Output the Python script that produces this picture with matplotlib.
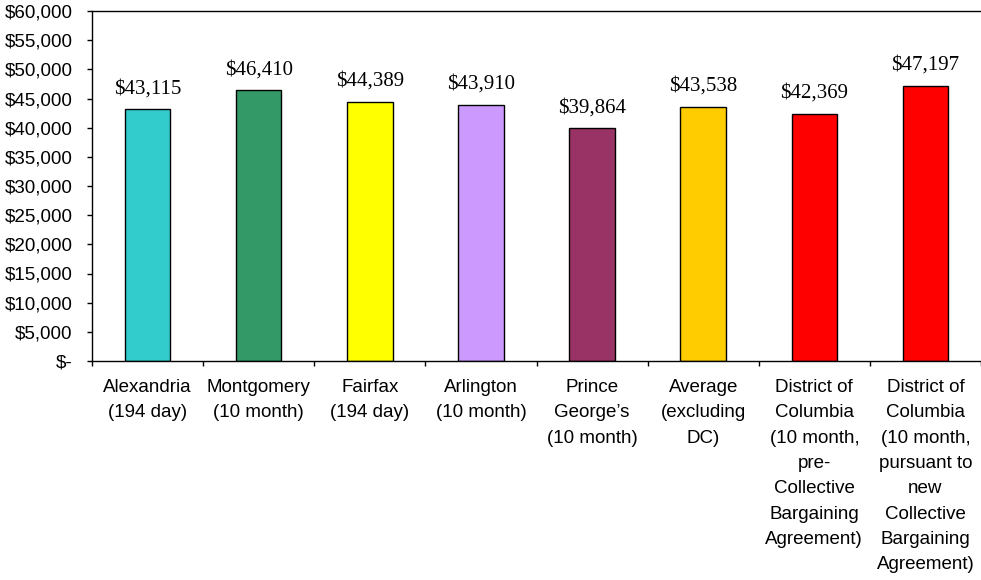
import matplotlib.pyplot as plt
import numpy as np
from matplotlib.ticker import FuncFormatter

districts = [
    "Alexandria\n(194 day)",
    "Montgomery\n(10 month)",
    "Fairfax\n(194 day)",
    "Arlington\n(10 month)",
    "Prince\nGeorge\u2019s\n(10 month)",
    "Average\n(excluding\nDC)",
    "District of\nColumbia\n(10 month,\npre-\nCollective\nBargaining\nAgreement)",
    "District of\nColumbia\n(10 month,\npursuant to\nnew\nCollective\nBargaining\nAgreement)",
]
salaries = [43115, 46410, 44389, 43910, 39864, 43538, 42369, 47197]
bar_colors = ["#33CCCC", "#339966", "#FFFF00", "#CC99FF", "#993366",
              "#FFCC00", "#FF0000", "#FF0000"]

fig = plt.figure(figsize=(9.81, 5.8), dpi=100)
ax = fig.add_axes([92 / 981, 219 / 580, 889 / 981, 350 / 580])

x = np.arange(len(districts))
ax.bar(x, salaries, width=0.41, color=bar_colors, edgecolor="black", linewidth=1.0)

for xi, val in zip(x, salaries):
    ax.annotate(f"${val:,}", (xi, val), xytext=(0, 8), textcoords="offset points",
                ha="center", va="bottom", fontsize=15, family="Liberation Serif")

ax.set_xlim(-0.5, len(districts) - 0.5)
ax.set_ylim(0, 60000)
ax.set_yticks(np.arange(0, 60001, 5000))
ax.yaxis.set_major_formatter(FuncFormatter(lambda v, p: "$-" if v == 0 else f"${v:,.0f}"))

ax.set_xticks(x)
ax.set_xticklabels(districts, fontsize=13.5, family="Liberation Sans", linespacing=1.64, va="top")
ax.set_xticks(np.arange(-0.5, len(districts), 1.0), minor=True)
ax.tick_params(axis="x", which="major", length=0, pad=13)
ax.tick_params(axis="x", which="minor", length=3.6, direction="out", width=1)
ax.tick_params(axis="y", length=3.6, direction="out", width=1, labelsize=13.5, pad=10.5)
for lab in ax.get_yticklabels():
    lab.set_family("Liberation Sans")

ax.spines["right"].set_visible(False)
for s in ["left", "bottom", "top"]:
    ax.spines[s].set_linewidth(1.0)

fig.savefig("out.png", dpi=100)
